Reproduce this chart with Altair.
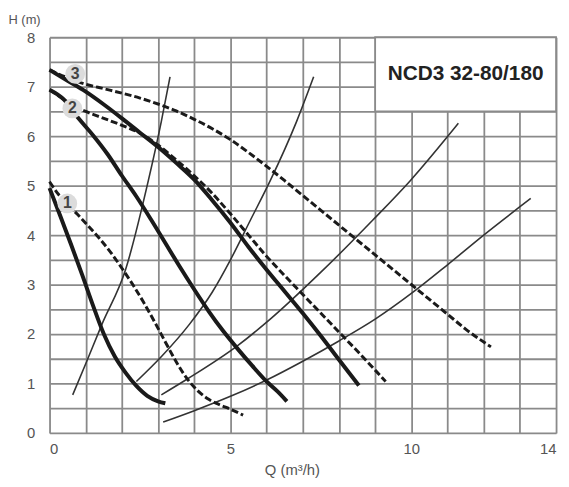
import altair as alt
import pandas as pd

# ---- data ----
SOLID1_Q = [0, 0.3, 0.6, 0.9, 1.2, 1.5, 1.8, 2.1, 2.4, 2.7, 3.0, 3.2]
SOLID1_H = [4.95, 4.38, 3.8, 3.2, 2.58, 2.0, 1.55, 1.22, 0.95, 0.75, 0.64, 0.6]

DASH1_Q = [0, 0.25, 0.5, 0.77, 1.0, 1.37, 1.7, 2.0, 2.3, 2.6, 2.9, 3.2, 3.5, 3.8, 4.1, 4.4, 4.7, 5.0, 5.35]
DASH1_H = [5.08, 4.82, 4.62, 4.42, 4.24, 3.94, 3.64, 3.33, 3.0, 2.64, 2.25, 1.84, 1.44, 1.1, 0.85, 0.68, 0.57, 0.48, 0.36]

SOLID2_Q = [0, 0.4, 0.8, 1.2, 1.6, 2.0, 2.4, 2.8, 3.2, 3.6, 4.0, 4.4, 4.8, 5.2, 5.6, 6.0, 6.3, 6.56]
SOLID2_H = [6.94, 6.74, 6.36, 6.02, 5.64, 5.2, 4.78, 4.32, 3.84, 3.36, 2.9, 2.46, 2.06, 1.7, 1.36, 1.04, 0.84, 0.64]

DASH2_Q = [0, 0.4, 0.7, 1.0, 1.5, 2.0, 2.5, 3.0, 3.5, 4.0, 4.5, 5.0, 5.5, 6.0, 6.5, 7.0, 7.5, 8.0, 8.5, 9.0, 9.29]
DASH2_H = [6.94, 6.74, 6.6, 6.5, 6.36, 6.22, 6.06, 5.82, 5.52, 5.2, 4.84, 4.43, 4.0, 3.57, 3.18, 2.8, 2.42, 2.04, 1.66, 1.27, 1.04]

SOLID3_Q = [0, 0.5, 1.0, 1.5, 2.0, 2.5, 3.0, 3.5, 4.0, 4.5, 5.0, 5.5, 6.0, 6.5, 7.0, 7.5, 8.0, 8.55]
SOLID3_H = [7.34, 7.12, 6.9, 6.64, 6.36, 6.07, 5.78, 5.46, 5.12, 4.7, 4.25, 3.76, 3.3, 2.86, 2.42, 1.96, 1.48, 0.96]

DASH3_Q = [0, 0.5, 1.0, 1.5, 2.0, 2.5, 3.0, 3.5, 4.0, 4.5, 5.0, 5.5, 6.0, 6.5, 7.0, 7.5, 8.0, 8.5, 9.0, 9.5, 10.0, 10.5, 11.0, 11.5, 12.2]
DASH3_H = [7.34, 7.18, 7.05, 6.96, 6.87, 6.77, 6.65, 6.51, 6.34, 6.15, 5.93, 5.67, 5.39, 5.1, 4.8, 4.5, 4.2, 3.9, 3.6, 3.3, 3.0, 2.7, 2.4, 2.1, 1.74]

SYSA_Q = [0.64, 1.0, 1.45, 2.1, 2.73, 3.09, 3.33]
SYSA_H = [0.77, 1.4, 2.2, 3.3, 5.1, 6.3, 7.2]
SYSB_Q = [2.4, 3.1, 3.87, 4.5, 5.0, 5.55, 6.1, 6.83, 7.3]
SYSB_H = [1.04, 1.55, 2.2, 2.85, 3.5, 4.3, 5.1, 6.3, 7.2]
SYSC_Q = [3.09, 3.83, 5.19, 6.1, 7.5, 8.93, 9.97, 11.3]
SYSC_H = [0.77, 1.1, 1.76, 2.3, 3.25, 4.3, 5.1, 6.26]
SYSD_Q = [3.14, 4.0, 5.0, 6.0, 7.0, 8.0, 9.0, 10.0, 11.0, 12.0, 13.3]
SYSD_H = [0.22, 0.45, 0.74, 1.07, 1.45, 1.86, 2.3, 2.82, 3.4, 4.0, 4.74]

LABEL_TEXT = ["1", "2", "3"]
LABEL_Q = [0.49, 0.63, 0.71]
LABEL_H = [4.64, 6.56, 7.26]

TITLE = "NCD3 32-80/180"
X_TICKS = list(range(0, 15))
X_LABELED = [0, 5, 10, 14]
Y_TICKS = [i * 0.5 for i in range(0, 17)]

# ---- build tables ----
def curve(name, qs, hs):
    return pd.DataFrame({"curve": name, "q": qs, "h": hs, "i": range(len(qs))})

solid = pd.concat([curve("s1", SOLID1_Q, SOLID1_H), curve("s2", SOLID2_Q, SOLID2_H),
                   curve("s3", SOLID3_Q, SOLID3_H)])
dashed = pd.concat([curve("d1", DASH1_Q, DASH1_H), curve("d2", DASH2_Q, DASH2_H),
                    curve("d3", DASH3_Q, DASH3_H)])
system = pd.concat([curve("a", SYSA_Q, SYSA_H), curve("b", SYSB_Q, SYSB_H),
                    curve("c", SYSC_Q, SYSC_H), curve("d", SYSD_Q, SYSD_H)])
labels = pd.DataFrame({"t": LABEL_TEXT, "q": LABEL_Q, "h": LABEL_H})
box = pd.DataFrame({"q": [9], "q2": [14], "h": [6.5], "h2": [8], "cq": [11.5], "ch": [7.25], "t": [TITLE]})

FONT = "Liberation Sans, Arial, sans-serif"
GRID = "#8a8a8a"

xlab = " || ".join(f"datum.value == {v}" for v in X_LABELED)
xscale = alt.Scale(domain=[0, 14], nice=False, zero=True)
yscale = alt.Scale(domain=[0, 8], nice=False)

xaxis = alt.Axis(
    values=X_TICKS, labelExpr=f"({xlab}) ? '' + datum.value : ''", title="Q (m³/h)",
    ticks=False, domain=False, grid=True, gridColor=GRID, gridWidth=1.8, gridOpacity=1,
    labelPadding=9, labelFontSize=15, labelColor="#555", labelFont=FONT, labelOverlap=False,
    titleFont=FONT, titleFontSize=15, titleFontWeight="normal", titleColor="#555",
    titleX=245, titleY=37, titleAlign="center", titleBaseline="middle")
yaxis = alt.Axis(
    values=Y_TICKS, labelExpr="datum.value % 1 == 0 ? '' + datum.value : ''", title="H (m)",
    ticks=False, domain=False, grid=True, gridColor=GRID, gridWidth=1.8, gridOpacity=1,
    labelPadding=15, labelFontSize=15, labelColor="#555", labelFont=FONT, labelOverlap=False,
    titleFont=FONT, titleFontSize=13, titleFontWeight="normal", titleColor="#555",
    titleAngle=0, titleX=-42, titleY=-18, titleAlign="left", titleBaseline="middle")


def X(f):
    return alt.X(f, scale=xscale, axis=xaxis, title="Q (m³/h)")


def Y(f):
    return alt.Y(f, scale=yscale, axis=yaxis, title="H (m)")


sys_layer = alt.Chart(system).mark_line(color="#333", strokeWidth=1.6, interpolate="monotone").encode(
    x=X("q:Q"), y=Y("h:Q"), detail="curve:N", order="i:Q")
dash_layer = alt.Chart(dashed).mark_line(color="#1a1a1a", strokeWidth=3, strokeDash=[7, 3],
                                         interpolate="monotone").encode(
    x=X("q:Q"), y=Y("h:Q"), detail="curve:N", order="i:Q")
solid_layer = alt.Chart(solid).mark_line(color="#1a1a1a", strokeWidth=4, interpolate="monotone").encode(
    x=X("q:Q"), y=Y("h:Q"), detail="curve:N", order="i:Q")
circ = alt.Chart(labels).mark_point(filled=True, shape="circle", size=400, color="#dcdcdc", opacity=1).encode(
    x=X("q:Q"), y=Y("h:Q"))
circ_txt = alt.Chart(labels).mark_text(font=FONT, fontSize=16, fontWeight="bold", color="#444",
                                       baseline="middle", align="center").encode(
    x=X("q:Q"), y=Y("h:Q"), text="t:N")
box_rect = alt.Chart(box).mark_rect(fill="white", stroke=GRID, strokeWidth=1.8).encode(
    x=X("q:Q"), x2="q2:Q", y=Y("h:Q"), y2="h2:Q")
box_txt = alt.Chart(box).mark_text(font=FONT, fontSize=21, fontWeight="bold", color="#222",
                                   baseline="middle", align="center").encode(
    x=X("cq:Q"), y=Y("ch:Q"), text="t:N")

chart = alt.layer(sys_layer, dash_layer, solid_layer, circ, circ_txt, box_rect, box_txt).properties(
    width=512, height=400,
    autosize=alt.AutoSizeParams(type="none"),
    padding={"left": 42, "top": 27, "right": 5, "bottom": 45},
).configure_view(stroke="#555", strokeWidth=2).configure(background="white")

chart.save("out.html", embed_options={"renderer": "svg", "actions": False})
